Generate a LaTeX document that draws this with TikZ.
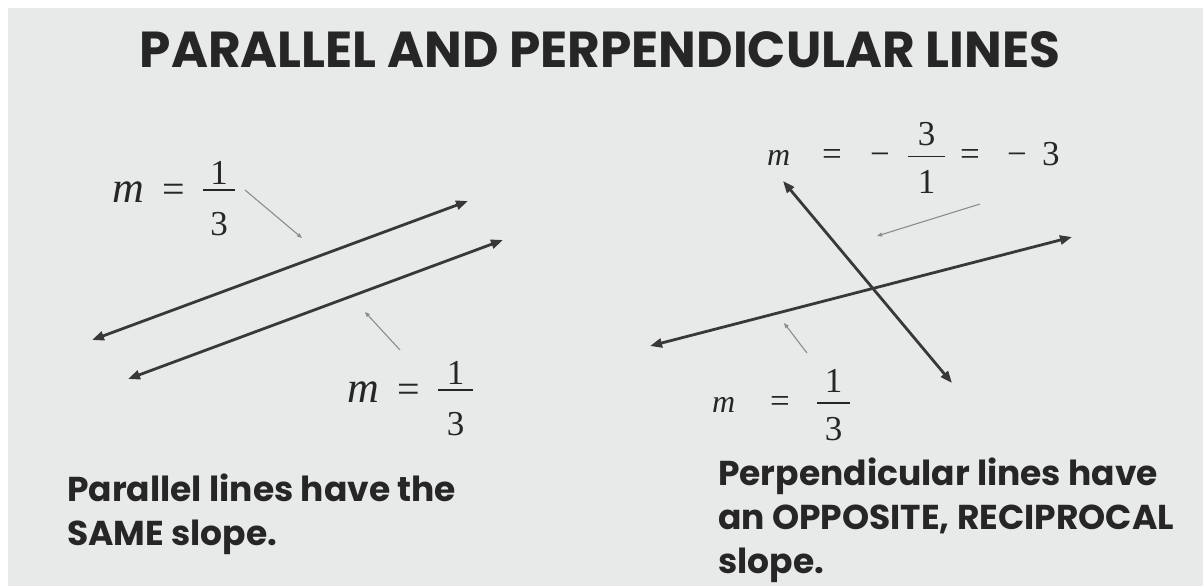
\documentclass[tikz,border=0pt]{standalone}
\usepackage{fontspec}
\usepackage{graphicx}
\setmainfont{Liberation Serif}
\newfontfamily\gothic{Poppins}
\usetikzlibrary{arrows.meta}
\definecolor{bg}{HTML}{E8EAEA}
\definecolor{ink}{HTML}{262626}
\definecolor{linec}{HTML}{383838}
\definecolor{ptr}{HTML}{8C8C8C}
\newcommand\putat[2]{\rlap{\hspace*{#1}#2}}
\newcommand\fr[6]{\rlap{\makebox[#3]{\raisebox{#4}{#1}}}\rlap{\makebox[#3]{\raisebox{-#5}{#2}}}\rule[#6]{#3}{1.3pt}}
\newcommand\mi[1]{{\fontsize{#1}{#1}\selectfont\itshape m}}
\tikzset{
  bigline/.style={draw=linec, line width=2.8pt, {Triangle[length=12pt,width=9pt]}-{Triangle[length=12pt,width=9pt]}},
  pointer/.style={draw=ptr, line width=1.1pt, -{Triangle[length=5pt,width=4pt]}},
  mathlbl/.style={anchor=base west, inner sep=0pt, text=ink, font=\fontsize{35}{35}\selectfont},
  bodytext/.style={anchor=base west, inner sep=0pt, text=ink, align=left, font=\gothic\bfseries\fontsize{34.5}{44}\selectfont},
}
\begin{document}
\begin{tikzpicture}[x=1pt,y=-1pt]
\useasboundingbox (0,0) rectangle (1203,586);
\fill[white] (0,0) rectangle (1203,586);
\fill[bg] (8,8) rectangle (1203,586);
% title
\node[anchor=base, inner sep=0pt, text=ink] (title) at (600,68)
  {\resizebox{920pt}{36pt}{\gothic\bfseries PARALLEL AND PERPENDICULAR LINES}};
% parallel lines
\coordinate (a1) at (92,340); \coordinate (a2) at (468,201);
\coordinate (b1) at (128,379); \coordinate (b2) at (503,240);
\draw[bigline] (a1) -- (a2);
\draw[bigline] (b1) -- (b2);
% perpendicular lines
\coordinate (c1) at (650,346); \coordinate (c2) at (1072,237);
\coordinate (d1) at (783,181); \coordinate (d2) at (952,383);
\draw[bigline] (c1) -- (c2);
\draw[bigline] (d1) -- (d2);
% pointers
\coordinate (p1s) at (245,190); \coordinate (p1e) at (302,238);
\coordinate (p2s) at (400,350); \coordinate (p2e) at (365,312);
\coordinate (p3s) at (980,204); \coordinate (p3e) at (877,236);
\coordinate (p4s) at (807,353); \coordinate (p4e) at (784,323);
\draw[pointer] (p1s) -- (p1e);
\draw[pointer] (p2s) -- (p2e);
\draw[pointer] (p3s) -- (p3e);
\draw[pointer] (p4s) -- (p4e);
% slope labels
\node[mathlbl] (m1) at (112,202)
  {\putat{0pt}{\mi{44}}\putat{50pt}{\fontsize{40}{40}\selectfont =}\putat{91pt}{\fr{1}{3}{32pt}{18pt}{33pt}{11.4pt}}\hspace*{123pt}};
\node[mathlbl] (m2) at (347,402)
  {\putat{0pt}{\mi{44}}\putat{50pt}{\fontsize{40}{40}\selectfont =}\putat{91pt}{\fr{1}{3}{35pt}{18pt}{33pt}{11.4pt}}\hspace*{126pt}};
\node[mathlbl] (m3) at (767,165)
  {\putat{0pt}{\mi{32}}\putat{55pt}{=}\putat{103pt}{−}\putat{141pt}{\fr{3}{1}{37pt}{20pt}{28pt}{8pt}}\putat{193pt}{=}\putat{240pt}{−}\putat{275pt}{3}\hspace*{292pt}};
\node[mathlbl] (m4) at (712,412)
  {\putat{0pt}{\mi{32}}\putat{58pt}{=}\putat{105pt}{\fr{1}{3}{33pt}{20pt}{28pt}{8.5pt}}\hspace*{138pt}};
% captions (anchored at the baseline of their last line)
\node[bodytext] (cap1) at (67,545) {Parallel lines have the\\SAME slope.};
\node[bodytext] (cap2) at (718,573) {Perpendicular lines have\\an OPPOSITE, RECIPROCAL\\slope.};
\end{tikzpicture}
\end{document}
